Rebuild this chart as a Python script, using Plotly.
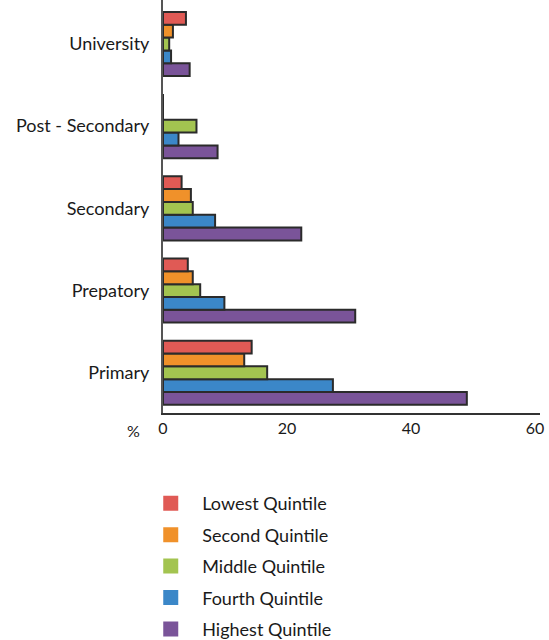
import plotly.graph_objects as go

levels = ['Primary', 'Prepatory', 'Secondary', 'Post - Secondary', 'University']
quintiles = ['Lowest Quintile', 'Second Quintile', 'Middle Quintile', 'Fourth Quintile', 'Highest Quintile']
colors = ['#E05A55', '#F0912A', '#A3C450', '#3B87C8', '#7A5499']

lowest = [14.3, 4.0, 3.0, 0, 3.7]
second = [13.1, 4.8, 4.5, 0, 1.6]
middle = [16.8, 6.0, 4.8, 5.4, 1.0]
fourth = [27.4, 9.9, 8.4, 2.5, 1.3]
highest = [49.0, 31.0, 22.3, 8.8, 4.3]
values = [lowest, second, middle, fourth, highest]

FONT = 'Liberation Sans Narrow, Lato, sans-serif'

fig = go.Figure()
# horizontal groups stack from the bottom, so add Highest first
for name, vals, col in reversed(list(zip(quintiles, values, colors))):
    fig.add_trace(go.Bar(
        y=levels, x=vals, name=name, orientation='h', showlegend=False,
        marker=dict(color=col, line=dict(color='#2b2b2b', width=2))))

# legend-only squares without outline
for name, col in zip(quintiles, colors):
    fig.add_trace(go.Scatter(
        x=[None], y=[None], mode='markers', name=name, legendgroup=name,
        marker=dict(symbol='square', size=15, color=col)))

fig.update_layout(
    width=549, height=640,
    margin=dict(l=163, r=9, t=0, b=227),
    plot_bgcolor='white', paper_bgcolor='white',
    barmode='group', bargap=0.22, bargroupgap=0,
    font=dict(family=FONT, color='#1a1a1a'),
    legend=dict(x=-0.063, xanchor='left', yref='container', y=0.242, yanchor='top',
                font=dict(size=18), itemwidth=53, tracegroupgap=5,
                bgcolor='rgba(0,0,0,0)'),
)
fig.update_xaxes(range=[0, 60.8], tickvals=[0, 20, 40, 60], showgrid=False,
                 showline=True, linecolor='#333', linewidth=2, zeroline=False,
                 tickfont=dict(size=16), ticks='', automargin=False)
fig.update_yaxes(range=[-0.49, 4.535], showgrid=False, showline=True,
                 linecolor='#555', linewidth=2, tickfont=dict(size=18), ticks='',
                 ticklabelstandoff=8, automargin=False)
fig.add_annotation(text='%', xref='paper', yref='paper', x=-0.1, y=-0.015,
                   yanchor='top', showarrow=False, font=dict(size=16))

# page has a default 8px body margin; drop it so the chart fills the window
fig.write_html("out.html", config={'displayModeBar': False},
               post_script="document.body.style.margin='0';")
